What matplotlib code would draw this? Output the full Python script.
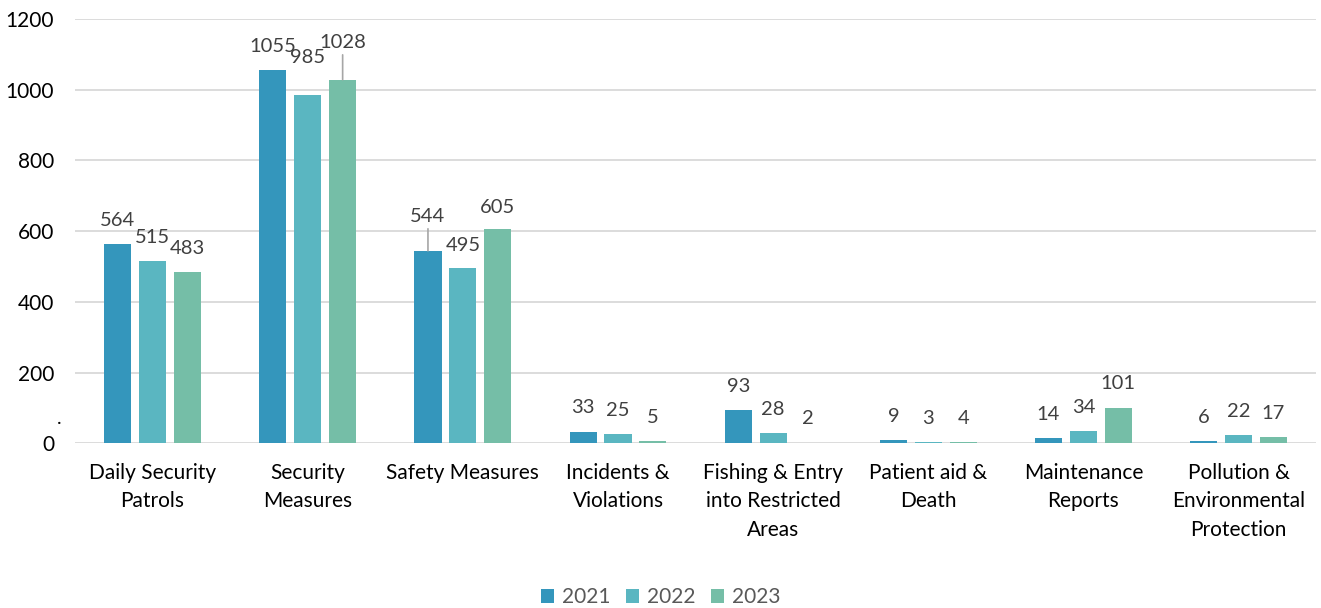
import matplotlib.pyplot as plt
import numpy as np

plt.rcParams['font.family'] = ['Lato', 'DejaVu Sans']

categories = ['Daily Security\nPatrols', 'Security\nMeasures', 'Safety Measures',
              'Incidents &\nViolations', 'Fishing & Entry\ninto Restricted\nAreas',
              'Patient aid &\nDeath', 'Maintenance\nReports',
              'Pollution &\nEnvironmental\nProtection']
years = ['2021', '2022', '2023']
v2021 = [564, 1055, 544, 33, 93, 9, 14, 6]
v2022 = [515, 985, 495, 25, 28, 3, 34, 22]
v2023 = [483, 1028, 605, 5, 2, 4, 101, 17]

colors = ['#3496BC', '#5AB6C1', '#75BEA7']
# label offsets (points above bar top); leader lines where Excel moved the label
offsets = {(1, 1): 27, (2, 1): 27, (0, 2): 25, (1, 2): 16, (2, 2): 16}
leaders = [(2, 1), (0, 2)]

fig = plt.figure(figsize=(13.21, 6.08), dpi=100)
ax = fig.add_axes([0.0568, 0.271, 0.9395, 0.698])

x = np.arange(len(categories))
w = 0.175
step = 0.225
for i, (vals, yr, c) in enumerate(zip([v2021, v2022, v2023], years, colors)):
    xs = x + (i - 1) * step
    ax.bar(xs, vals, w, color=c, label=yr, zorder=3)
    for j, v in enumerate(vals):
        off = offsets.get((i, j), 17)
        arrow = None
        if (i, j) in leaders:
            arrow = dict(arrowstyle='-', color='#a6a6a6', lw=1.2, shrinkA=1, shrinkB=0)
        ax.annotate(str(v), xy=(xs[j], v), xytext=(0, off), textcoords='offset points',
                    ha='center', va='center', fontsize=14.5, color='#404040',
                    arrowprops=arrow)

ax.set_xlim(-0.5, len(categories) - 0.5)
ax.set_ylim(0, 1200)
ax.set_yticks(range(0, 1201, 200))
ax.set_xticks(x)
ax.set_xticklabels(categories, fontsize=15, linespacing=1.55, color='black')
ax.tick_params(axis='both', length=0, labelsize=15)
ax.tick_params(axis='y', pad=15)
ax.tick_params(axis='x', pad=14)
ax.grid(axis='y', color='#d9d9d9', lw=1.3, zorder=0)
for s in ax.spines.values():
    s.set_visible(False)

ax.text(-0.013, 0.045, '.', transform=ax.transAxes, fontsize=14, ha='center')

fig.legend(loc='lower center', ncol=3, frameon=False, fontsize=15,
           bbox_to_anchor=(0.5, -0.03), handlelength=0.65, handleheight=0.65,
           handletextpad=0.35, columnspacing=0.75, labelcolor='#595959')

fig.savefig('out.png', dpi=100)
